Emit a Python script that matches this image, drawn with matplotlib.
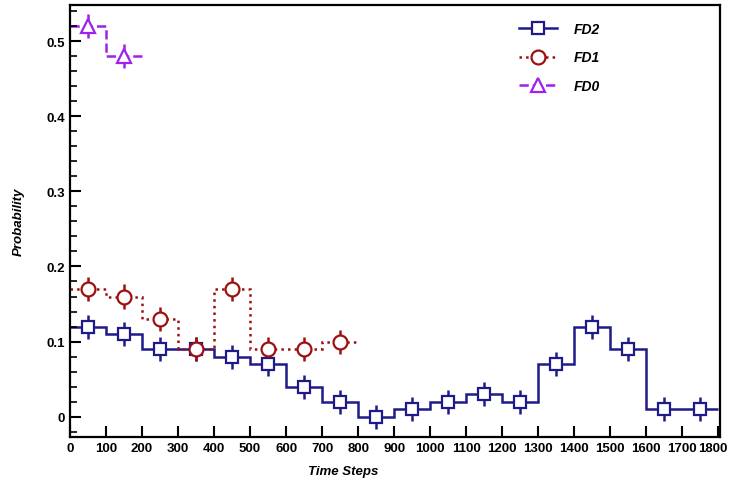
import matplotlib
matplotlib.use("Agg")
import matplotlib.pyplot as plt
import numpy as np
from matplotlib.ticker import MultipleLocator
from matplotlib.lines import Line2D
import matplotlib.transforms as mtransforms

plt.rcParams['font.family'] = ['Liberation Sans', 'DejaVu Sans']

bin_width = 100
fd2 = [0.12, 0.11, 0.09, 0.09, 0.08, 0.07, 0.04, 0.02, 0.00, 0.01,
       0.02, 0.03, 0.02, 0.07, 0.12, 0.09, 0.01, 0.01]
fd1 = [0.17, 0.16, 0.13, 0.09, 0.17, 0.09, 0.09, 0.10]
fd0 = [0.52, 0.48]
err = 0.016

series = [
    ("FD2", fd2, "#1f1a8a", "-", "s", 8.5),
    ("FD1", fd1, "#9e1010", ":", "o", 10),
    ("FD0", fd0, "#a020f0", "--", "^", 10),
]

fig = plt.figure(figsize=(7.33, 4.81), dpi=100)
ax = fig.add_axes([0.0955, 0.0894, 0.887, 0.8981])

lw = 1.8
handles = []
for name, vals, col, ls, mk, ms in series:
    n = len(vals)
    edges = np.arange(n + 1) * bin_width
    centers = edges[:-1] + bin_width / 2
    ax.stairs(vals, edges, color=col, linestyle=ls, linewidth=lw, baseline=None)
    ax.errorbar(centers, vals, yerr=err, fmt=mk, color=col, mfc='white', mec=col,
                mew=1.6, ms=ms, elinewidth=lw, capsize=0, zorder=3)
    handles.append(Line2D([], [], color=col, linestyle=ls, linewidth=lw, marker=mk,
                          ms=ms, mfc='white', mec=col, mew=1.6))

ax.set_xlim(0, 1805)
ax.set_ylim(-0.027, 0.548)
ax.set_xticks(np.arange(0, 1801, 100))
ax.yaxis.set_minor_locator(MultipleLocator(0.02))
ax.set_yticks([0, 0.1, 0.2, 0.3, 0.4, 0.5])
ax.set_yticklabels(['0', '0.1', '0.2', '0.3', '0.4', '0.5'])
ax.tick_params(axis='both', which='major', direction='in', length=8, width=1.5,
               labelsize=9.5, top=False, right=False)
ax.tick_params(axis='y', which='minor', direction='in', length=5, width=1.2, right=False)
for lab in ax.get_xticklabels() + ax.get_yticklabels():
    lab.set_fontweight('bold')
last = ax.get_xticklabels()[-1]
last.set_transform(last.get_transform() + mtransforms.ScaledTranslation(-0.06, 0, fig.dpi_scale_trans))
for sp in ax.spines.values():
    sp.set_linewidth(1.6)

ax.set_xlabel('Time Steps', fontsize=9.5, fontweight='bold', style='italic')
ax.xaxis.set_label_coords(0.42, -0.065)
ax.set_ylabel('Probability', fontsize=9.5, fontweight='bold', style='italic')
ax.yaxis.set_label_coords(-0.07, 0.5)

leg = ax.legend(handles, [s[0] for s in series], loc='upper right',
                bbox_to_anchor=(0.835, 0.99), frameon=False, handlelength=2.8,
                labelspacing=1.05, handletextpad=1.2,
                prop={'weight': 'bold', 'style': 'italic', 'size': 10})

fig.savefig('out.png', dpi=100)
